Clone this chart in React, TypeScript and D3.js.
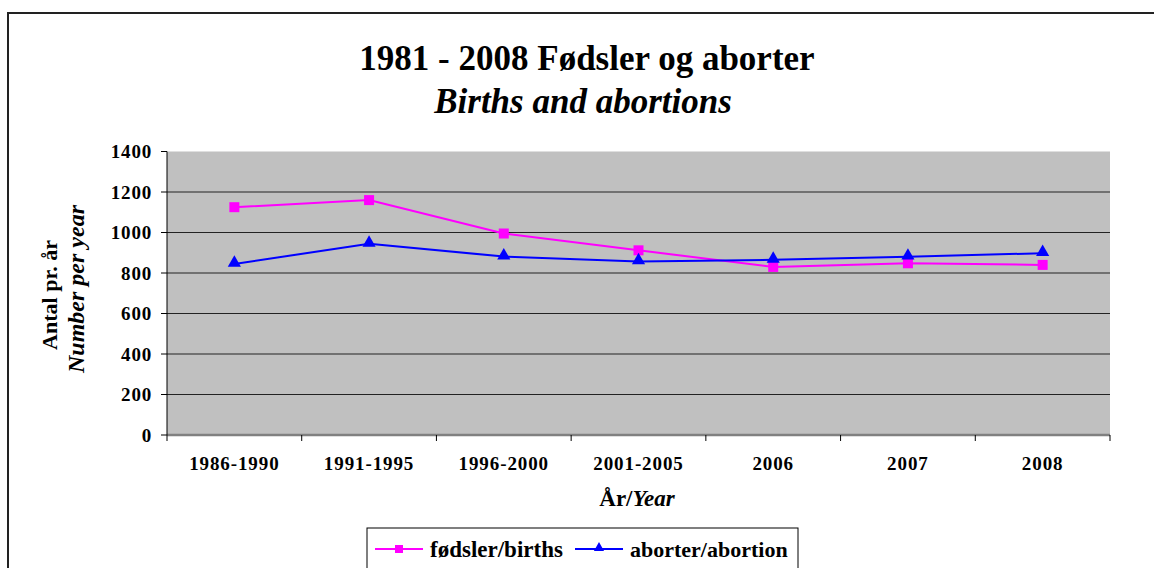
import React from "react";
import * as d3 from "d3";

const categories = ["1986-1990", "1991-1995", "1996-2000", "2001-2005", "2006", "2007", "2008"];
const births = [1125, 1160, 995, 912, 830, 848, 840];
const abortions = [845, 944, 881, 857, 865, 880, 898];
const yTicks = [0, 200, 400, 600, 800, 1000, 1200, 1400];

const W = 1154;
const H = 568;
const FONT = "'Liberation Serif', 'Times New Roman', serif";

const plot = { left: 167, right: 1110, top: 151.5, bottom: 435 };

const App = () => {
  const x = d3
    .scaleBand<string>()
    .domain(categories)
    .range([plot.left, plot.right])
    .paddingInner(0)
    .paddingOuter(0);
  const y = d3.scaleLinear().domain([0, 1400]).range([plot.bottom, plot.top]);
  const cx = (c: string) => (x(c) as number) + x.bandwidth() / 2;

  const line = d3
    .line<number>()
    .x((d, i) => cx(categories[i]))
    .y((d) => y(d));

  const tri = d3.symbol().type(d3.symbolTriangle).size(75);

  return (
    <svg
      width={W}
      height={H}
      style={{ position: "absolute", left: 0, top: 0, background: "#fff" }}
      fontFamily={FONT}
    >
      {/* outer frame */}
      <rect x={8} y={13} width={1200} height={700} fill="#fff" stroke="#222" strokeWidth={2} />

      {/* titles */}
      <text x={587} y={70} textAnchor="middle" fontSize={35} fontWeight="bold">
        1981 - 2008 Fødsler og aborter
      </text>
      <text x={583} y={113} textAnchor="middle" fontSize={35} fontWeight="bold" fontStyle="italic">
        Births and abortions
      </text>

      {/* plot area */}
      <rect
        x={plot.left}
        y={plot.top}
        width={plot.right - plot.left}
        height={plot.bottom - plot.top}
        fill="#c0c0c0"
      />
      {yTicks.slice(1, -1).map((t) => (
        <line key={t} x1={plot.left} x2={plot.right} y1={y(t)} y2={y(t)} stroke="#222" strokeWidth={1} />
      ))}
      <line x1={plot.left} x2={plot.right} y1={plot.bottom} y2={plot.bottom} stroke="#808080" strokeWidth={2.5} />
      <line x1={plot.left} x2={plot.left} y1={plot.top} y2={plot.bottom} stroke="#000" strokeWidth={1} />

      {/* y axis */}
      {yTicks.map((t) => (
        <g key={t}>
          <line x1={plot.left - 6} x2={plot.left} y1={y(t)} y2={y(t)} stroke="#000" />
          <text
            x={152}
            y={y(t)}
            dy="0.35em"
            textAnchor="end"
            fontSize={19}
            fontWeight="bold"
            letterSpacing={0.8}
          >
            {t}
          </text>
        </g>
      ))}

      {/* x axis */}
      {categories.map((c) => (
        <line
          key={c}
          x1={x(c) as number}
          x2={x(c) as number}
          y1={plot.bottom}
          y2={plot.bottom + 6}
          stroke="#000"
        />
      ))}
      <line x1={plot.right} x2={plot.right} y1={plot.bottom} y2={plot.bottom + 6} stroke="#000" />
      {categories.map((c) => (
        <text key={c} x={cx(c)} y={470} textAnchor="middle" fontSize={19} fontWeight="bold" letterSpacing={0.9}>
          {c}
        </text>
      ))}

      {/* axis titles */}
      <text x={637} y={506} textAnchor="middle" fontSize={23} fontWeight="bold">
        År/<tspan fontStyle="italic">Year</tspan>
      </text>
      <text transform="translate(57,295) rotate(-90)" textAnchor="middle" fontSize={22} fontWeight="bold">
        Antal  pr. år
      </text>
      <text
        transform="translate(84,289) rotate(-90)"
        textAnchor="middle"
        fontSize={24}
        fontWeight="bold"
        fontStyle="italic"
      >
        Number per year
      </text>

      {/* series */}
      <path d={line(births) as string} fill="none" stroke="#ff00ff" strokeWidth={2} />
      <path d={line(abortions) as string} fill="none" stroke="#0000ff" strokeWidth={2} />
      {births.map((v, i) => (
        <rect key={i} x={cx(categories[i]) - 5} y={y(v) - 5} width={10} height={10} fill="#ff00ff" />
      ))}
      {abortions.map((v, i) => (
        <path
          key={i}
          d={tri() as string}
          transform={`translate(${cx(categories[i])},${y(v) - 1})`}
          fill="#0000ff"
        />
      ))}

      {/* legend */}
      <rect x={367} y={528} width={431} height={60} fill="#fff" stroke="#000" strokeWidth={1} />
      <line x1={375} x2={423} y1={549} y2={549} stroke="#ff00ff" strokeWidth={2} />
      <rect x={395} y={545} width={8} height={8} fill="#ff00ff" />
      <text x={430} y={557} fontSize={23} fontWeight="bold">
        fødsler/births
      </text>
      <line x1={575} x2={623} y1={549} y2={549} stroke="#0000ff" strokeWidth={2} />
      <path
        d={d3.symbol().type(d3.symbolTriangle).size(45)() as string}
        transform="translate(599,548)"
        fill="#0000ff"
      />
      <text x={630} y={557} fontSize={22} fontWeight="bold">
        aborter/abortion
      </text>
    </svg>
  );
};

export default App;
